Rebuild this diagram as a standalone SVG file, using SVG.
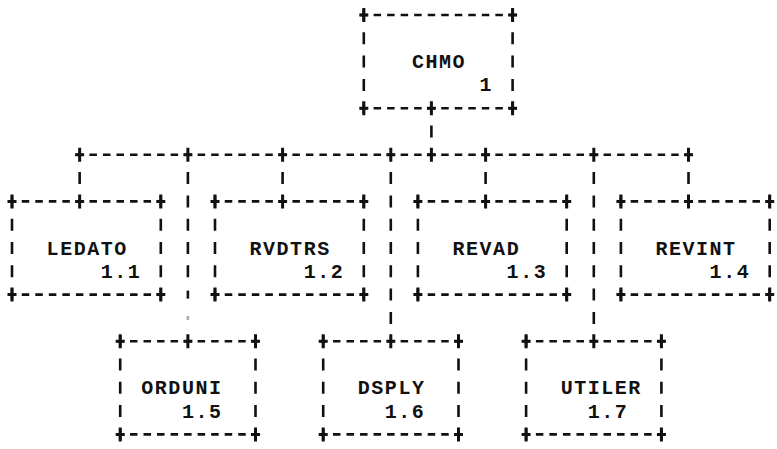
<svg xmlns="http://www.w3.org/2000/svg" xmlns:xlink="http://www.w3.org/1999/xlink" width="777" height="449" viewBox="0 0 777 449">
<style>
.h{stroke:#111;stroke-width:2.6;stroke-dasharray:7.5 6.03;fill:none}
.v{stroke:#111;stroke-width:2.6;stroke-dasharray:12 11.3;fill:none}
.s{stroke:#111;stroke-width:2.6;fill:none}
.p{stroke:#111;stroke-width:3;fill:none}
text{font-family:"Liberation Mono","DejaVu Sans Mono",monospace;font-weight:bold;font-size:20px;letter-spacing:1.53px;fill:#111}
</style>
<defs>
<path id="p" class="p" d="M0,-7V7M-4.5,0H4.5"/>
</defs>
<rect width="777" height="449" fill="#fff"/>
<g id="connectors">
<path class="s" d="M431.4,125.5V137.5"/>
<path class="h" d="M75.9,154.8H692.25"/>
<path class="v" d="M79.65,172.1V184.1M282.6,172.1V184.1M485.6,172.1V184.1M688.5,172.1V184.1"/>
<path class="v" d="M187.9,172.1V277.3"/>
<path class="s" d="M187.9,290.6V298.6"/>
<path class="s" d="M187.9,316V320" opacity="0.35"/>
<path class="v" d="M390.8,172.1V323.9M593.8,172.1V323.9"/>
<use xlink:href="#p" x="431.4" y="108.2"/>
<use xlink:href="#p" x="79.65" y="154.8"/>
<use xlink:href="#p" x="187.9" y="154.8"/>
<use xlink:href="#p" x="282.6" y="154.8"/>
<use xlink:href="#p" x="390.8" y="154.8"/>
<use xlink:href="#p" x="431.4" y="154.8"/>
<use xlink:href="#p" x="485.6" y="154.8"/>
<use xlink:href="#p" x="593.8" y="154.8"/>
<use xlink:href="#p" x="688.5" y="154.8"/>
<use xlink:href="#p" x="79.65" y="201.4"/>
<use xlink:href="#p" x="282.6" y="201.4"/>
<use xlink:href="#p" x="485.6" y="201.4"/>
<use xlink:href="#p" x="688.5" y="201.4"/>
<use xlink:href="#p" x="187.9" y="341.2"/>
<use xlink:href="#p" x="390.8" y="341.2"/>
<use xlink:href="#p" x="593.8" y="341.2"/>
</g>
<g id="chmo">
<path class="h" d="M360.05,15H516.35M360.05,108.2H516.35"/>
<path class="v" d="M363.8,9V114.2M512.6,9V114.2"/>
<use xlink:href="#p" x="363.8" y="15"/><use xlink:href="#p" x="512.6" y="15"/>
<use xlink:href="#p" x="363.8" y="108.2"/><use xlink:href="#p" x="512.6" y="108.2"/>
<text x="411.9" y="68.1">CHMO</text>
<text x="479.6" y="91.4">1</text>
</g>
<g id="ledato">
<path class="h" d="M8.25,201.4H164.55M8.25,294.6H164.55"/>
<path class="v" d="M12,195.4V300.6M160.8,195.4V300.6"/>
<use xlink:href="#p" x="12" y="201.4"/><use xlink:href="#p" x="160.8" y="201.4"/>
<use xlink:href="#p" x="12" y="294.6"/><use xlink:href="#p" x="160.8" y="294.6"/>
<text x="46.6" y="254.5">LEDATO</text>
<text x="100.7" y="277.8">1.1</text>
</g>
<g id="rvdtrs">
<path class="h" d="M211.25,201.4H367.55M211.25,294.6H367.55"/>
<path class="v" d="M215,195.4V300.6M363.8,195.4V300.6"/>
<use xlink:href="#p" x="215" y="201.4"/><use xlink:href="#p" x="363.8" y="201.4"/>
<use xlink:href="#p" x="215" y="294.6"/><use xlink:href="#p" x="363.8" y="294.6"/>
<text x="249.5" y="254.5">RVDTRS</text>
<text x="303.7" y="277.8">1.2</text>
</g>
<g id="revad">
<path class="h" d="M414.15,201.4H570.45M414.15,294.6H570.45"/>
<path class="v" d="M417.9,195.4V300.6M566.7,195.4V300.6"/>
<use xlink:href="#p" x="417.9" y="201.4"/><use xlink:href="#p" x="566.7" y="201.4"/>
<use xlink:href="#p" x="417.9" y="294.6"/><use xlink:href="#p" x="566.7" y="294.6"/>
<text x="452.5" y="254.5">REVAD</text>
<text x="506.6" y="277.8">1.3</text>
</g>
<g id="revint">
<path class="h" d="M617.15,201.4H773.45M617.15,294.6H773.45"/>
<path class="v" d="M620.9,195.4V300.6M769.7,195.4V300.6"/>
<use xlink:href="#p" x="620.9" y="201.4"/><use xlink:href="#p" x="769.7" y="201.4"/>
<use xlink:href="#p" x="620.9" y="294.6"/><use xlink:href="#p" x="769.7" y="294.6"/>
<text x="655.4" y="254.5">REVINT</text>
<text x="709.6" y="277.8">1.4</text>
</g>
<g id="orduni">
<path class="h" d="M116.45,341.2H259.25M116.45,434.4H259.25"/>
<path class="v" d="M120.2,335.2V440.4M255.5,335.2V440.4"/>
<use xlink:href="#p" x="120.2" y="341.2"/><use xlink:href="#p" x="255.5" y="341.2"/>
<use xlink:href="#p" x="120.2" y="434.4"/><use xlink:href="#p" x="255.5" y="434.4"/>
<text x="141.3" y="394.3">ORDUNI</text>
<text x="181.9" y="417.6">1.5</text>
</g>
<g id="dsply">
<path class="h" d="M319.45,341.2H462.25M319.45,434.4H462.25"/>
<path class="v" d="M323.2,335.2V440.4M458.5,335.2V440.4"/>
<use xlink:href="#p" x="323.2" y="341.2"/><use xlink:href="#p" x="458.5" y="341.2"/>
<use xlink:href="#p" x="323.2" y="434.4"/><use xlink:href="#p" x="458.5" y="434.4"/>
<text x="357.8" y="394.3">DSPLY</text>
<text x="384.8" y="417.6">1.6</text>
</g>
<g id="utiler">
<path class="h" d="M522.35,341.2H665.15M522.35,434.4H665.15"/>
<path class="v" d="M526.1,335.2V440.4M661.4,335.2V440.4"/>
<use xlink:href="#p" x="526.1" y="341.2"/><use xlink:href="#p" x="661.4" y="341.2"/>
<use xlink:href="#p" x="526.1" y="434.4"/><use xlink:href="#p" x="661.4" y="434.4"/>
<text x="560.7" y="394.3">UTILER</text>
<text x="587.8" y="417.6">1.7</text>
</g>
</svg>
